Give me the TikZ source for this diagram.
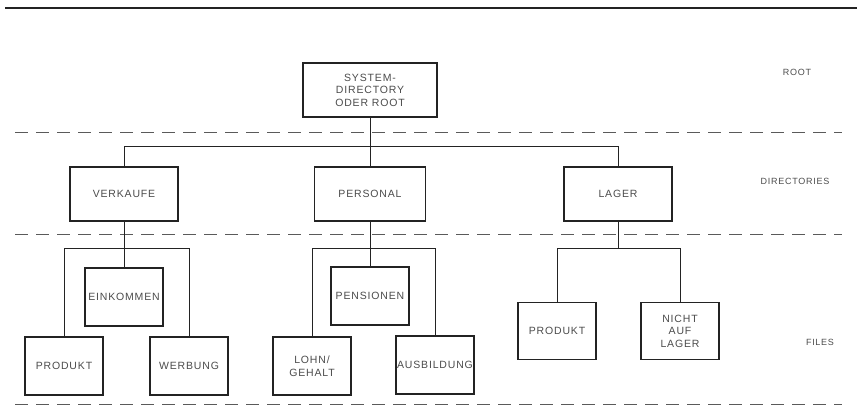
\documentclass[tikz,border=0pt]{standalone}
\usepackage{fontspec}
\setmainfont{Liberation Sans}[LetterSpace=8]
\usepackage{xcolor}
\usepackage{tikz}
\definecolor{inkgray}{RGB}{35, 35, 35}
\definecolor{textgray}{RGB}{75, 75, 75}
\definecolor{rulegray}{RGB}{90, 90, 90}

\begin{document}
\begin{tikzpicture}[
    x=1pt, y=-1pt,
    dirbox/.style={rectangle, draw=inkgray, line width=1.4pt, minimum width=108pt, minimum height=54pt, inner sep=0pt, align=center, font=\fontsize{10.5}{12.5}\selectfont, text=textgray},
    filebox/.style={dirbox, minimum width=78pt, minimum height=58pt},
    level/.style={font=\fontsize{9}{10}\selectfont, text=textgray},
    link/.style={draw=inkgray, line width=0.9pt},
    divider/.style={draw=rulegray, line width=1pt, dash pattern=on 13pt off 8pt}
]
    \useasboundingbox (0,0) rectangle (857,407);

    % Top rule and level dividers
    \draw[inkgray, line width=2.4pt] (5,8) -- (857,8);
    \draw[divider] (15,132) -- (842,132);
    \draw[divider] (15,234) -- (842,234);
    \draw[divider] (15,404) -- (842,404);

    % Level labels
    \node[level] (lroot) at (797,72) {ROOT};
    \node[level] (ldirs) at (795,181) {DIRECTORIES};
    \node[level] (lfiles) at (820,342) {FILES};

    % Root
    \node[dirbox, minimum width=134pt] (root) at (370,90) {SYSTEM-\\DIRECTORY\\ODER ROOT};

    % Directories
    \node[dirbox] (verk) at (124,194) {VERKAUFE};
    \node[dirbox, minimum width=111pt] (pers) at (370,194) {PERSONAL};
    \node[dirbox] (lager) at (618,194) {LAGER};

    % Files
    \node[filebox] (eink) at (124,297) {EINKOMMEN};
    \node[filebox] (prod) at (64,366) {PRODUKT};
    \node[filebox] (werb) at (189,366) {WERBUNG};

    \node[filebox] (pens) at (370,296) {PENSIONEN};
    \node[filebox] (lohn) at (312,366) {LOHN/\\GEHALT};
    \node[filebox] (ausb) at (435,365) {AUSBILDUNG};

    \node[filebox, minimum height=57pt] (lprod) at (557,331) {PRODUKT};
    \node[filebox, minimum height=57pt] (nicht) at (680,331) {NICHT\\AUF\\LAGER};

    % Buses
    \coordinate (busroot) at (370,146);
    \coordinate (busfile) at (370,248);

    % Root to directories
    \draw[link] (root.south) -- (pers.north);
    \draw[link] (verk.north) -- (verk.north |- busroot) -- (lager.north |- busroot) -- (lager.north);

    % Directories to files
    \draw[link] (verk.south) -- (eink.north);
    \draw[link] (prod.north) -- (prod.north |- busfile) -- (werb.north |- busfile) -- (werb.north);
    \draw[link] (pers.south) -- (pens.north);
    \draw[link] (lohn.north) -- (lohn.north |- busfile) -- (ausb.north |- busfile) -- (ausb.north);
    \draw[link] (lager.south) -- (lager.south |- busfile);
    \draw[link] (lprod.north) -- (lprod.north |- busfile) -- (nicht.north |- busfile) -- (nicht.north);
\end{tikzpicture}
\end{document}
